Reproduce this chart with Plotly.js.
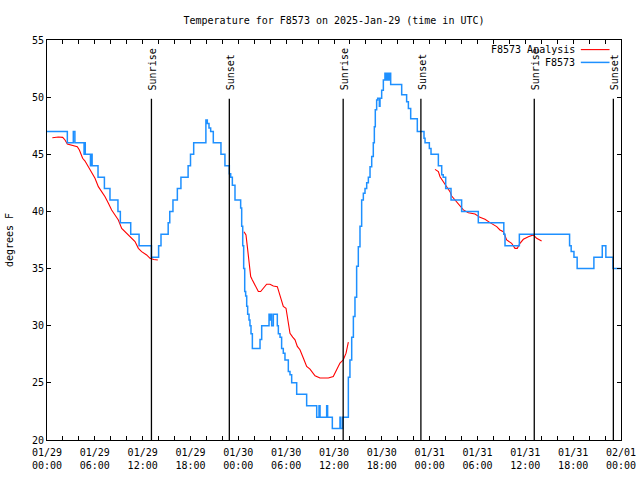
<!DOCTYPE html>
<html>
<head>
<meta charset="utf-8">
<script src="https://cdn.plot.ly/plotly-3.0.1.min.js"></script>
<style>html,body{margin:0;padding:0;background:#fff;}#chart{width:640px;height:480px;}</style>
</head>
<body>
<div id="chart"></div>
<script>
// Hours since 2025-01-29 00:00 UTC
const blueT = [0,2.55,3.3,3.5,4.65,4.72,4.8,5.45,5.58,5.66,6.4,7.2,7.9,8.9,9.2,10.5,11.55,13.1,14.0,14.3,15.2,15.4,15.8,16.35,16.8,17.7,18.0,18.4,19.93,20.11,20.32,20.53,20.86,21.82,22.32,22.87,23.04,23.25,23.58,24.29,24.42,24.55,24.67,24.8,24.92,25.05,25.17,25.34,25.46,25.59,25.76,26.72,26.93,27.85,27.97,28.1,28.18,28.39,28.89,29.02,29.23,29.43,29.64,29.85,30.27,30.48,30.69,31.32,32.57,33.83,34.12,34.25,35.08,35.2,35.79,36.75,36.85,37.09,37.8,38.0,38.22,38.43,38.63,38.84,39.05,39.26,39.47,39.68,39.89,40.1,40.31,40.52,40.73,40.93,41.06,41.18,41.35,41.48,41.69,41.77,41.98,42.19,42.39,42.52,42.69,42.81,42.94,43.11,44.49,45.11,45.33,45.62,46.45,47.29,47.42,47.96,48.17,49.09,49.51,49.7,50.01,50.68,52.01,54.1,57.3,57.45,59.25,65.55,65.75,66.1,66.5,68.6,69.65,70.1,71.0,72];
const blueV = [47,46,47,46,45,46,45,44,45,44,43,42,41,40,39,38,37,36,37,38,39,40,41,42,43,44,45,46,48,47.7,47.3,47,46,45,44,43.3,43,42.3,41,40.3,38.7,37,35,33,32.6,31.7,31,30.5,30,29.3,28,28.8,30,31,30.5,31,30,31,30,29.3,29,28,27.6,27,26,25.7,25,24,23,22,23,22,23,22,21,22,21,22,25.5,27,29,30.8,32.5,35.2,36.9,38.7,41,41.6,42,42.5,43,43.9,44.8,46,47.4,48.9,49.75,49.9,49.2,49.9,50.6,51.5,52.1,51.5,52.1,51.5,52.1,51.1,50.2,49.6,49,48.1,47,46.4,46,45.5,45,44,43.2,43,42,41,40,39,38,37,38,37,36.5,36,35,36,37,36,35,35];

const redT = [0.67,1.42,1.97,2.26,2.55,3.1,3.8,4.06,4.47,4.77,5.19,5.6,6.02,6.44,6.86,7.28,7.7,8.11,8.53,8.95,9.37,9.78,10.2,10.62,11.04,11.46,11.87,12.5,12.92,13.4,13.9,
  null,
  24.71,24.96,25.13,25.34,25.55,25.76,26.09,26.51,26.8,27.14,27.55,27.97,28.39,28.89,29.14,29.43,29.64,29.98,30.15,30.48,30.82,31.11,31.4,31.73,32.15,32.57,32.99,33.62,34.24,35.29,35.91,36.34,36.75,37.17,37.51,37.8,
  null,
  48.67,49.09,49.3,49.72,50.13,50.55,50.76,51.18,51.6,52.23,52.85,53.69,54.31,54.94,55.57,56.41,56.82,57.24,57.66,58.28,58.7,58.99,59.33,59.75,60.38,61.0,61.42,62.04];
const redV = [46.45,46.51,46.48,46.25,45.9,45.81,45.67,45.37,44.65,44.41,43.92,43.33,42.9,42.17,41.73,41.29,40.71,40.13,39.69,39.25,38.52,38.23,37.94,37.65,37.36,36.77,36.48,36.19,35.9,35.8,35.75,
  null,
  38.23,37.94,36.92,35.61,34.3,34.0,33.57,32.99,32.99,33.28,33.63,33.63,33.48,33.42,32.84,32.26,31.68,31.53,30.8,29.34,29.0,28.77,28.19,27.9,27.17,26.44,26.2,25.62,25.42,25.42,25.56,26.15,26.73,27.02,27.6,28.56,
  null,
  43.68,43.48,43.04,42.61,42.17,41.73,41.35,41.0,40.56,40.13,39.89,39.78,39.48,39.31,39.02,38.67,38.38,38.23,37.5,37.21,36.77,36.77,37.21,37.56,37.79,37.94,37.65,37.41];

const sunT = [13.1, 22.87, 37.15, 46.9, 61.12, 71.04];
const sunLabel = ["Sunrise", "Sunset", "Sunrise", "Sunset", "Sunrise", "Sunset"];

const tickVals = [0, 6, 12, 18, 24, 30, 36, 42, 48, 54, 60, 66, 72];
const tickText = ["01/29<br>00:00","01/29<br>06:00","01/29<br>12:00","01/29<br>18:00","01/30<br>00:00","01/30<br>06:00","01/30<br>12:00","01/30<br>18:00","01/31<br>00:00","01/31<br>06:00","01/31<br>12:00","01/31<br>18:00","02/01<br>00:00"];

const seriesNames = ["F8573 Analysis", "F8573"];
const seriesColors = ["#ff0000", "#1e90ff"];

const FONT = "DejaVu Sans Mono, Liberation Mono, monospace";

const traces = [
  {x: redT, y: redV, type: "scatter", mode: "lines", name: seriesNames[0],
   line: {color: seriesColors[0], width: 1.1}, connectgaps: false, showlegend: false},
  {x: blueT, y: blueV, type: "scatter", mode: "lines", name: seriesNames[1],
   line: {color: seriesColors[1], width: 1.5, shape: "hv"}, showlegend: false}
];

const shapes = sunT.map(t => ({type: "line", xref: "x", yref: "y", x0: t, x1: t, y0: 20, y1: 49.85,
  line: {color: "#000", width: 1.3}}));
const annotations = sunT.map((t, i) => ({x: t, y: 50.45, xref: "x", yref: "y", text: sunLabel[i],
  textangle: -90, showarrow: false, xanchor: "center", yanchor: "bottom", xshift: 1,
  font: {family: FONT, size: 10, color: "#000"}}));

// legend drawn gnuplot-style: text then line sample
const legY = [0.976, 0.944];
seriesNames.forEach((n, i) => {
  annotations.push({x: 0.923, y: legY[i], xref: "paper", yref: "paper", text: n, showarrow: false,
    xanchor: "right", yanchor: "middle", font: {family: FONT, size: 10, color: "#000"}});
  shapes.push({type: "line", xref: "paper", yref: "paper", x0: 0.930, x1: 0.980, y0: legY[i], y1: legY[i],
    line: {color: seriesColors[i], width: i === 0 ? 1.1 : 1.5}});
});

const layout = {
  width: 640, height: 480,
  margin: {l: 47, r: 19, t: 40, b: 40},
  paper_bgcolor: "#fff", plot_bgcolor: "#fff",
  font: {family: FONT, size: 10, color: "#000"},
  title: {text: "Temperature for F8573 on 2025-Jan-29 (time in UTC)", x: 0.5, xref: "paper",
    y: 0.957, yref: "container", yanchor: "middle", font: {family: FONT, size: 10, color: "#000"}},
  xaxis: {range: [0, 72], tickmode: "array", tickvals: tickVals, ticktext: tickText,
    ticks: "inside", ticklen: 4, tickcolor: "#000", showline: true, linecolor: "#000", linewidth: 1,
    mirror: "ticks", showgrid: false, zeroline: false, ticklabelstandoff: 3,
    minor: {tickmode: "linear", tick0: 0, dtick: 2, ticks: "inside", ticklen: 4, tickcolor: "#000", showgrid: false},
    tickfont: {family: FONT, size: 10, color: "#000"}},
  yaxis: {range: [20, 55], dtick: 5, tick0: 20, ticks: "inside", ticklen: 4, tickcolor: "#000",
    showline: true, linecolor: "#000", linewidth: 1, mirror: "ticks", showgrid: false, zeroline: false,
    tickfont: {family: FONT, size: 10, color: "#000"},
    title: {text: "degrees F", standoff: 16, font: {family: FONT, size: 10, color: "#000"}}},
  shapes: shapes,
  annotations: annotations,
  showlegend: false
};

Plotly.newPlot("chart", traces, layout, {displayModeBar: false, staticPlot: true});
</script>
</body>
</html>
